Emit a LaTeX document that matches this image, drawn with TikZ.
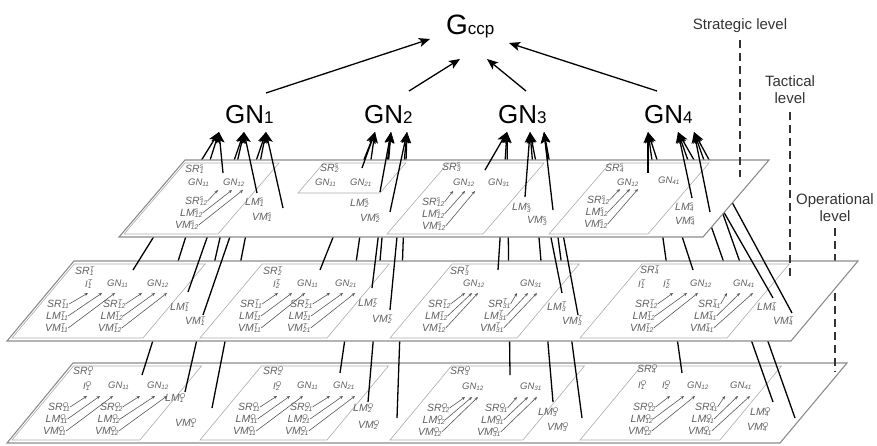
\documentclass[tikz,border=0pt]{standalone}
\usepackage{fontspec}
\setmainfont{Liberation Sans}
\usetikzlibrary{arrows.meta}
\newcommand\sus[2]{\rlap{\raisebox{0.62ex}{\fontsize{6.8}{7}\selectfont #1}}\raisebox{-0.22ex}{\fontsize{6.8}{7}\selectfont #2}}
\newcommand\sbs[1]{\raisebox{-0.25ex}{\fontsize{6.3}{7}\selectfont #1}}
\newcommand\pb[5]{\draw[pbox] (#1,#4) -- (#2,#4) -- ({#2+(#4-#3)*#5},#3) -- ({#1+(#4-#3)*#5},#3) -- cycle;}
\newcommand\stk[9]{%
 \node[lab] (#1s) at (#2,#3) {SR\sus{#4}{#5}};
 \node[lab] (#1l) at ({#2-#6/2},{#3+12}) {LM\sus{#4}{#5}};
 \node[lab] (#1v) at ({#2-#6},{#3+24}) {VM\sus{#4}{#5}};
 \coordinate (#1a) at (#7,{#3-11});
 \coordinate (#1b) at (#8,{#3-11});
 \coordinate (#1c) at (#9,{#3-11});
 \draw[sa] (#1s.east) -- (#1a);
 \draw[sa] (#1l.east) -- (#1b);
 \draw[sa] (#1v.east) -- (#1c);
}
\begin{document}
\begin{tikzpicture}[x=1pt,y=-1pt,
 lab/.style={anchor=west, inner sep=0pt, text=black!62, font=\fontsize{10.5}{11}\selectfont\itshape},
 glab/.style={anchor=west, inner sep=0pt, text=black!62, font=\fontsize{9.5}{10}\selectfont\itshape},
 sa/.style={draw=black!65, line width=0.6pt, -{Stealth[length=3.5pt,width=3pt]}},
 la/.style={draw=black, line width=1.3pt, -{Stealth[length=11pt,width=9pt,inset=2.5pt]}},
 plane/.style={fill=white, draw=black!45, line width=1.1pt},
 pbox/.style={draw=black!32, line width=0.6pt},
 lvl/.style={draw=black!80, line width=1.3pt, dash pattern=on 8pt off 5pt},
 lvltext/.style={inner sep=0pt, text=black!80, align=center, font=\fontsize{15}{17}\selectfont}]
\useasboundingbox (0,0) rectangle (877,445);

% arrow tips under the GN nodes
\coordinate (t11) at (219,132); \coordinate (t12) at (244,132); \coordinate (t13) at (266,132);
\coordinate (t21) at (375,132); \coordinate (t22) at (391,132); \coordinate (t23) at (407,132);
\coordinate (t31) at (507,132); \coordinate (t32) at (530,132); \coordinate (t33) at (544,132);
\coordinate (t41) at (648,132); \coordinate (t42) at (678,132); \coordinate (t43) at (694,132);

% ================= Operational plane =================
\draw[plane] (73,363) -- (847,363) -- (780,443) -- (7,443) -- cycle;
\pb{12}{140}{366}{440}{0.83}
\pb{200}{327}{366}{440}{0.83}
\pb{390}{523}{366}{440}{0.83}
\pb{580}{720}{366}{440}{0.83}
% region 1
\node[lab] (srO1) at (73,371) {SR\sus{O}{1}};
\node[glab] (iO1) at (83,386) {I\sus{O}{1}};
\node[glab] (gO1a) at (108,386) {GN\sbs{11}};
\node[glab] (gO1b) at (147,386) {GN\sbs{12}};
\stk{oA}{48}{407}{O}{11}{5}{87}{100}{113}
\stk{oB}{100}{407}{O}{12}{5}{140}{155}{167}
\node[lab] (lmO1) at (165,398) {LM\sus{O}{1}};
\node[lab] (vmO1) at (175,423) {VM\sus{O}{1}};
% region 2
\node[lab] (srO2) at (263,371) {SR\sus{O}{2}};
\node[glab] (iO2) at (273,386) {I\sus{O}{2}};
\node[glab] (gO2a) at (297,386) {GN\sbs{11}};
\node[glab] (gO2b) at (333,386) {GN\sbs{21}};
\stk{oC}{238}{407}{O}{11}{5}{277}{290}{303}
\stk{oD}{290}{407}{O}{21}{5}{330}{343}{355}
\node[lab] (lmO2) at (353,408) {LM\sus{O}{2}};
\node[lab] (vmO2) at (358,425) {VM\sus{O}{2}};
% region 3
\node[lab] (srO3) at (450,371) {SR\sus{O}{3}};
\node[glab] (gO3a) at (462,387) {GN\sbs{12}};
\node[glab] (gO3b) at (520,387) {GN\sbs{31}};
\stk{oE}{427}{408}{O}{12}{9}{465}{472}{478}
\stk{oF}{485}{408}{O}{31}{8}{517}{528}{537}
\node[lab] (lmO3) at (538,412) {LM\sus{O}{3}};
\node[lab] (vmO3) at (547,427) {VM\sus{O}{3}};
% region 4
\node[lab] (srO4) at (637,369) {SR\sus{O}{4}};
\node[glab] (iO4a) at (638,385) {I\sus{O}{1}};
\node[glab] (iO4b) at (662,385) {I\sus{O}{2}};
\node[glab] (gO4a) at (687,386) {GN\sbs{12}};
\node[glab] (gO4b) at (730,386) {GN\sbs{41}};
\stk{oG}{633}{407}{O}{12}{5}{670}{684}{695}
\stk{oH}{695}{407}{O}{41}{7}{725}{738}{750}
\node[lab] (lmO4) at (750,412) {LM\sus{O}{4}};
\node[lab] (vmO4) at (747,427) {VM\sus{O}{4}};
% operational level marker
\coordinate (opA) at (835,228); \coordinate (opB) at (835,372);
\draw[lvl] (opA) -- (opB);
% lines from the operational level
\coordinate (o1s) at (142,375); \coordinate (o1l) at (185,392); \coordinate (o1v) at (212,408);
\coordinate (o2s) at (340,373); \coordinate (o2l) at (368,402); \coordinate (o2v) at (397,418);
\coordinate (o3s) at (510,375); \coordinate (o3l) at (553,402); \coordinate (o3v) at (582,418);
\coordinate (o4s) at (682,373); \coordinate (o4l) at (773,402); \coordinate (o4v) at (795,418);
\foreach \r in {1,2,3,4}{
 \draw[la] (o\r s) -- (t\r1);
 \draw[la] (o\r l) -- (t\r2);
 \draw[la] (o\r v) -- (t\r3);
}

% ================= Tactical plane =================
\draw[plane] (74,261) -- (858,261) -- (791,341) -- (7,341) -- cycle;
\pb{12}{143}{264}{338}{0.84}
\pb{200}{327}{264}{338}{0.84}
\pb{390}{517}{264}{338}{0.84}
\pb{580}{727}{264}{338}{0.84}
% region 1
\node[lab] (srT1) at (75,271) {SR\sus{T}{1}};
\node[glab] (iT1) at (85,284) {I\sus{T}{1}};
\node[glab] (gT1a) at (107,284) {GN\sbs{11}};
\node[glab] (gT1b) at (147,284) {GN\sbs{12}};
\stk{tA}{47}{304}{T}{11}{2}{88}{102}{115}
\stk{tB}{103}{304}{T}{12}{5}{142}{155}{167}
\node[lab] (lmT1) at (170,307) {LM\sus{T}{1}};
\node[lab] (vmT1) at (185,321) {VM\sus{T}{1}};
% region 2
\node[lab] (srT2) at (263,271) {SR\sus{T}{2}};
\node[glab] (iT2) at (273,284) {I\sus{T}{2}};
\node[glab] (gT2a) at (297,284) {GN\sbs{11}};
\node[glab] (gT2b) at (335,284) {GN\sbs{21}};
\stk{tC}{240}{304}{T}{11}{2}{278}{292}{305}
\stk{tD}{290}{304}{T}{21}{3}{330}{343}{355}
\node[lab] (lmT2) at (358,303) {LM\sus{T}{2}};
\node[lab] (vmT2) at (372,319) {VM\sus{T}{2}};
% region 3
\node[lab] (srT3) at (450,271) {SR\sus{T}{3}};
\node[glab] (gT3a) at (463,284) {GN\sbs{12}};
\node[glab] (gT3b) at (520,284) {GN\sbs{31}};
\stk{tE}{428}{304}{T}{12}{6}{465}{472}{478}
\stk{tF}{488}{304}{T}{31}{8}{517}{528}{537}
\node[lab] (lmT3) at (547,307) {LM\sus{T}{3}};
\node[lab] (vmT3) at (562,321) {VM\sus{T}{3}};
% region 4
\node[lab] (srT4) at (640,270) {SR\sus{T}{4}};
\node[glab] (iT4a) at (638,284) {I\sus{T}{1}};
\node[glab] (iT4b) at (663,284) {I\sus{T}{2}};
\node[glab] (gT4a) at (690,284) {GN\sbs{12}};
\node[glab] (gT4b) at (733,284) {GN\sbs{41}};
\stk{tG}{635}{304}{T}{12}{5}{673}{687}{698}
\stk{tH}{698}{304}{T}{41}{8}{727}{740}{753}
\node[lab] (lmT4) at (757,307) {LM\sus{T}{4}};
\node[lab] (vmT4) at (773,321) {VM\sus{T}{4}};
% tactical level marker
\coordinate (taA) at (790,112); \coordinate (taB) at (790,278);
\draw[lvl] (taA) -- (taB);
% lines from the tactical level
\coordinate (m1s) at (133,270); \coordinate (m1l) at (188,292); \coordinate (m1v) at (203,315);
\coordinate (m2s) at (320,270); \coordinate (m2l) at (372,288); \coordinate (m2v) at (390,310);
\coordinate (m3s) at (498,270); \coordinate (m3l) at (562,293); \coordinate (m3v) at (578,315);
\coordinate (m4s) at (693,270); \coordinate (m4l) at (773,298); \coordinate (m4v) at (792,313);
\foreach \r in {1,2,3,4}{
 \draw[la] (m\r s) -- (t\r1);
 \draw[la] (m\r l) -- (t\r2);
 \draw[la] (m\r v) -- (t\r3);
}

% ================= Strategic plane =================
\draw[plane] (185,160) -- (769,160) -- (703,237) -- (119,237) -- cycle;
\pb{124}{218}{163}{234}{0.86}
\pb{298}{380}{163}{193}{0.86}
\pb{387}{483}{163}{234}{0.86}
\pb{549}{648}{163}{234}{0.86}
% region 1
\node[lab] (srs1) at (185,169) {SR\sus{s}{1}};
\node[glab] (gs1a) at (188,183) {GN\sbs{11}};
\node[glab] (gs1b) at (223,183) {GN\sbs{12}};
\stk{sA}{185}{201}{s}{12}{10}{218}{232}{243}
\node[lab] (lms1) at (245,202) {LM\sus{s}{1}};
\node[lab] (vms1) at (252,217) {VM\sus{s}{1}};
% region 2
\node[lab] (srs2) at (320,168) {SR\sus{s}{2}};
\node[glab] (gs2a) at (315,183) {GN\sbs{11}};
\node[glab] (gs2b) at (350,183) {GN\sbs{21}};
\node[lab] (lms2) at (350,203) {LM\sus{s}{2}};
\node[lab] (vms2) at (360,218) {VM\sus{s}{2}};
% region 3
\node[lab] (srs3) at (442,167) {SR\sus{s}{3}};
\node[glab] (gs3a) at (453,183) {GN\sbs{12}};
\node[glab] (gs3b) at (488,183) {GN\sbs{31}};
\stk{sB}{422}{202}{s}{12}{0}{453}{465}{475}
\node[lab] (lms3) at (512,208) {LM\sus{s}{3}};
\node[lab] (vms3) at (527,221) {VM\sus{s}{3}};
% region 4
\node[lab] (srs4) at (605,168) {SR\sus{s}{4}};
\node[glab] (gs4a) at (617,183) {GN\sbs{12}};
\node[glab] (gs4b) at (658,181) {GN\sbs{41}};
\stk{sC}{587}{200}{s}{12}{3}{620}{630}{638}
\node[lab] (lms4) at (675,207) {LM\sus{s}{4}};
\node[lab] (vms4) at (675,221) {VM\sus{s}{4}};
% strategic level marker
\coordinate (stA) at (740,40); \coordinate (stB) at (740,177);
\draw[lvl] (stA) -- (stB);
% lines from the strategic level
\coordinate (u1s) at (223,173); \coordinate (u1l) at (257,193); \coordinate (u1v) at (283,208);
\coordinate (u2s) at (362,168); \coordinate (u2l) at (380,192); \coordinate (u2v) at (390,212);
\coordinate (u3s) at (485,170); \coordinate (u3l) at (525,197); \coordinate (u3v) at (553,210);
\coordinate (u4s) at (648,173); \coordinate (u4l) at (692,198); \coordinate (u4v) at (710,212);
\foreach \r in {1,2,3,4}{
 \draw[la] (u\r s) -- (t\r1);
 \draw[la] (u\r l) -- (t\r2);
 \draw[la] (u\r v) -- (t\r3);
}

% ================= Top =================
\node[anchor=base west, inner sep=0pt, font=\fontsize{28}{30}\selectfont] (gccp) at (446,34) {G{\fontsize{17}{17}\selectfont ccp}};
\node[anchor=base west, inner sep=0pt, font=\fontsize{26}{28}\selectfont] (gn1) at (225,123) {GN{\fontsize{17}{17}\selectfont 1}};
\node[anchor=base west, inner sep=0pt, font=\fontsize{26}{28}\selectfont] (gn2) at (364,123) {GN{\fontsize{17}{17}\selectfont 2}};
\node[anchor=base west, inner sep=0pt, font=\fontsize{26}{28}\selectfont] (gn3) at (498,123) {GN{\fontsize{17}{17}\selectfont 3}};
\node[anchor=base west, inner sep=0pt, font=\fontsize{26}{28}\selectfont] (gn4) at (644,123) {GN{\fontsize{17}{17}\selectfont 4}};
\coordinate (g1s) at (266,93); \coordinate (g1e) at (430,39);
\coordinate (g2s) at (409,91); \coordinate (g2e) at (460,59);
\coordinate (g3s) at (526,91); \coordinate (g3e) at (487,59);
\coordinate (g4s) at (657,91); \coordinate (g4e) at (509,43);
\foreach \r in {1,2,3,4}{ \draw[la] (g\r s) -- (g\r e); }

\node[lvltext] (stT) at (740,26) {Strategic level};
\node[lvltext] (taT) at (790,90) {Tactical\\level};
\node[lvltext] (opT) at (835,208) {Operational\\level};
\end{tikzpicture}
\end{document}
